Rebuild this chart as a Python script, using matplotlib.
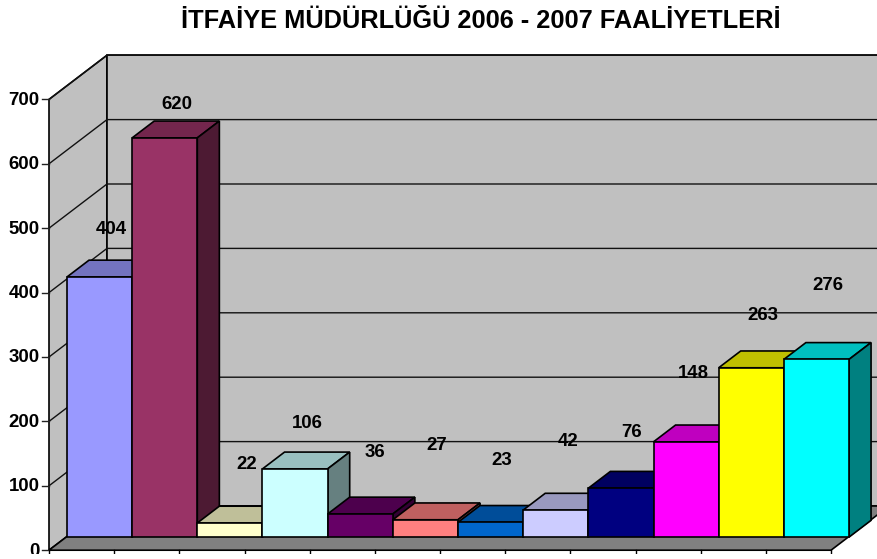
import matplotlib
matplotlib.use("Agg")
import matplotlib.pyplot as plt
from matplotlib.colors import to_rgb
from matplotlib.patches import Polygon

title = "İTFAİYE MÜDÜRLÜĞÜ 2006 - 2007 FAALİYETLERİ"
values = [404, 620, 22, 106, 36, 27, 23, 42, 76, 148, 263, 276]
# where the value labels sit, in category / value units
label_x = [0.95, 1.96, 3.04, 3.97, 5.0, 5.95, 6.95, 7.96, 8.94, 9.89, 10.95, 11.95]
label_y = [498, 692, 133, 197, 152, 163, 140, 169, 183, 275, 365, 411]
yticks = [0, 100, 200, 300, 400, 500, 600, 700]
colors = ["#9999FF", "#993366", "#FFFFCC", "#CCFFFF", "#660066", "#FF8080",
          "#0066CC", "#CCCCFF", "#000080", "#FF00FF", "#FFFF00", "#00FFFF"]

# pixel layout of the picture, the axes fills the whole figure
W, H = 878, 559
X0, Y0 = 49, 550.2
CAT_PX = 65.17
VAL_PX = 0.644
# full depth of the box in category / value units
DX = 58 / CAT_PX
DY = 44.2 / VAL_PX
D1, D2 = 0.31, 0.69
BASE = -1  # bars stand a little lower than the straight depth line
FONT = "Liberation Sans"


def proj(x, v, d=0.0):
    return x + d * DX, v + d * DY


def shade(c, f):
    return tuple(i * f for i in to_rgb(c))


def poly(ax, pts, fc, z=1):
    ax.add_patch(Polygon(pts, closed=True, fc=fc, ec="black", lw=1.2, zorder=z, joinstyle="miter"))


fig = plt.figure(figsize=(W / 100, H / 100), dpi=100)
ax = fig.add_axes([0, 0, 1, 1])
ax.set_xlim(-X0 / CAT_PX, (W - X0) / CAT_PX)
ax.set_ylim((Y0 - H) / VAL_PX, Y0 / VAL_PX)
ax.axis("off")
n = len(values)
top = yticks[-1]

# walls and floor
poly(ax, [proj(0, 0), proj(0, top), proj(0, top, 1), proj(0, 0, 1)], "#C0C0C0")
poly(ax, [proj(0, 0, 1), proj(0, top, 1), proj(n, top, 1), proj(n, 0, 1)], "#C0C0C0")
poly(ax, [proj(0, 0), proj(0, 0, 1), proj(n, 0, 1), proj(n, 0)], "#808080")

# gridlines
for t in yticks[1:]:
    xs, ys = zip(proj(0, t), proj(0, t, 1), proj(n, t, 1))
    ax.plot(xs, ys, color="#111111", lw=1.0, zorder=2)

# ticks and tick labels
for t in yticks:
    ax.plot([-7 / CAT_PX, 0], [t, t], color="#222222", lw=1.0, zorder=2)
    ax.text(-9.5 / CAT_PX, t - 1.5, str(t), ha="right", va="center", fontsize=13.4,
            fontweight="bold", family=FONT)
for i in range(n + 1):
    ax.plot([i, i], [0, -8 / VAL_PX], color="black", lw=1.0, zorder=2)

# bars, drawn left to right so each one covers the side of the last
for i, (v, c) in enumerate(zip(values, colors)):
    z = 3 + i
    h = BASE + v
    poly(ax, [proj(i, h, D1), proj(i, h, D2), proj(i + 1, h, D2), proj(i + 1, h, D1)], shade(c, 0.75), z=z)
    poly(ax, [proj(i + 1, BASE, D1), proj(i + 1, BASE, D2), proj(i + 1, h, D2), proj(i + 1, h, D1)], shade(c, 0.5), z=z)
    poly(ax, [proj(i, BASE, D1), proj(i + 1, BASE, D1), proj(i + 1, h, D1), proj(i, h, D1)], c, z=z)

# value labels
for v, lx, ly in zip(values, label_x, label_y):
    ax.text(lx, ly, str(v), ha="center", va="center", fontsize=13.4,
            fontweight="bold", family=FONT, zorder=30)

# the reference is cut off just under the zero line
ax.axhspan((Y0 - H) / VAL_PX, (Y0 - 554) / VAL_PX, color="white", lw=0, zorder=50)

ax.text(480.5 / W, 1 - 21 / H, title, transform=ax.transAxes, ha="center", va="center",
        fontsize=18.3, fontweight="bold", family=FONT)

fig.savefig("out.png", dpi=100)
